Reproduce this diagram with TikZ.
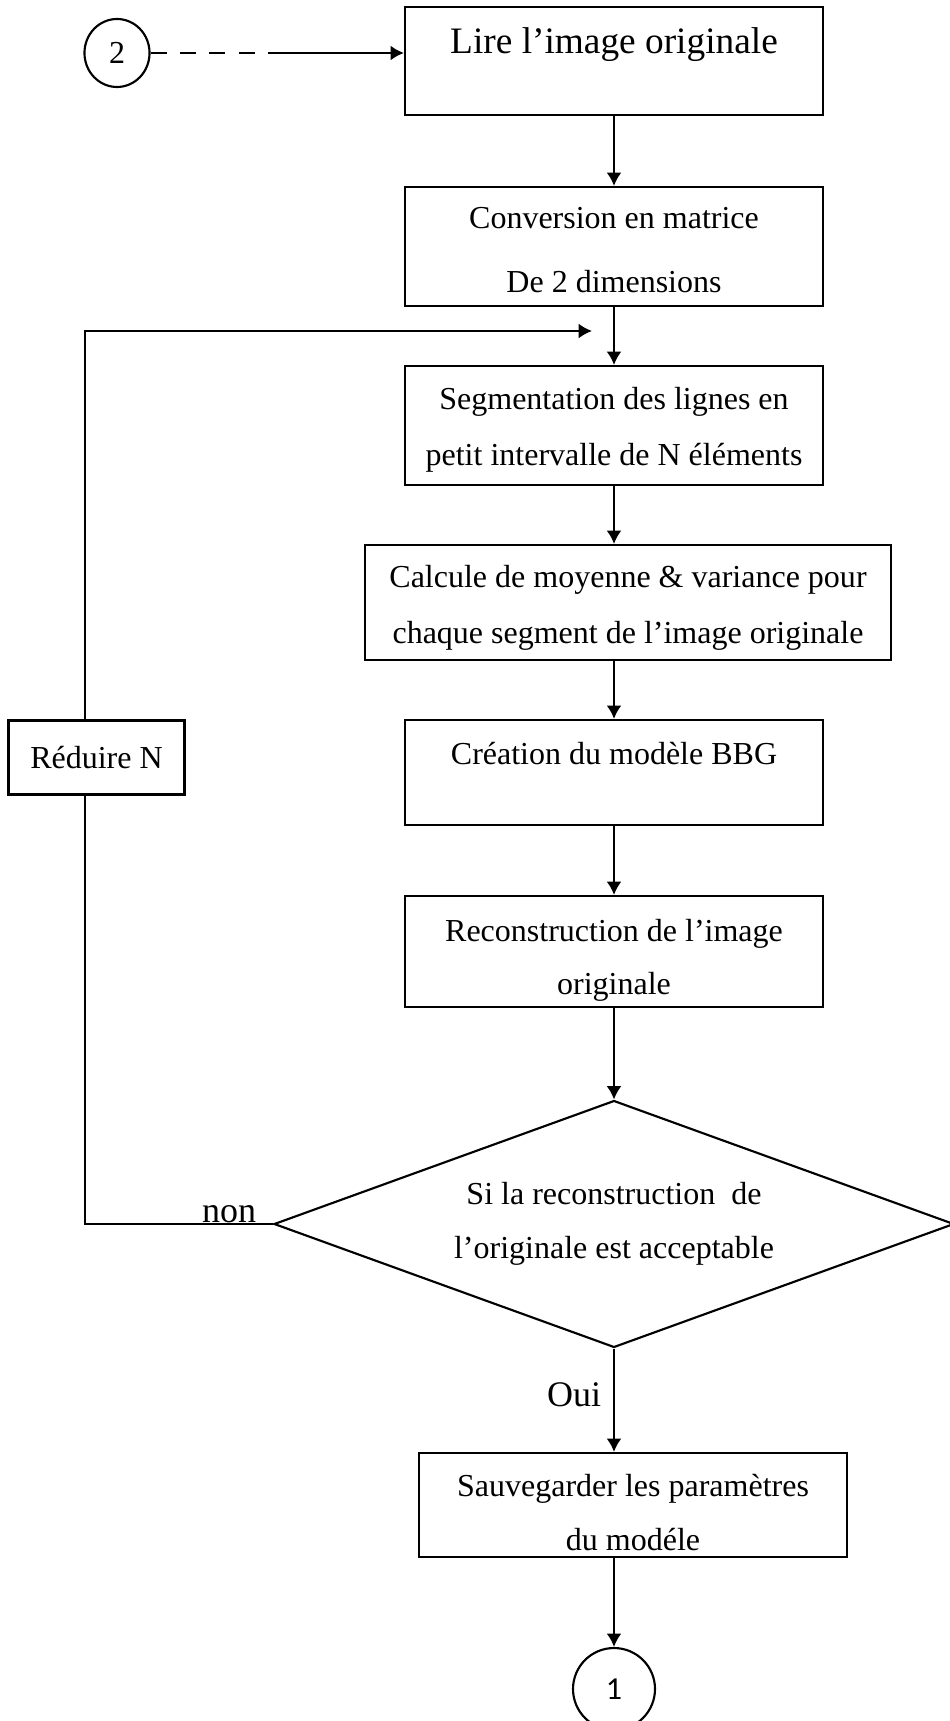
\documentclass[tikz,border=0pt]{standalone}
\usepackage{fontspec}
\setmainfont{Liberation Serif}
\newfontfamily\calfont{Carlito}
\usepackage{tikz}
\usepgflibrary{arrows}
\usetikzlibrary{shapes}
\usetikzlibrary{arrows.meta}
\usetikzlibrary{positioning}

\begin{document}
\begin{tikzpicture}[x=0.375pt,y=-0.375pt]
				\tikzset{box/.style = {shape=rectangle,draw,thick,minimum 
						width=156.75pt, inner sep = 0pt, align=center,
						font=\fontsize{12}{21}\selectfont}}
				\tikzset{conn/.style = {shape=ellipse,draw,thick,inner sep = 0pt,
						font=\fontsize{12}{14}\selectfont}}
				\tikzset{edge/.style = {->,> = {Latex[length=5pt,width=5.6pt]}, thick}}
				\tikzset{lbl/.style = {font=\fontsize{13.5}{16}\selectfont, inner sep = 0pt}}
				\useasboundingbox (0,0) rectangle (949,1721);
				
				% vertices
				\node[conn, minimum width=24.4pt, minimum height=25.5pt] (c2) at (117,53) {2};
				\node[box, minimum height=40.5pt, font=\fontsize{14}{21}\selectfont] (b1) at (614,61) {\rule{0pt}{15.5pt}Lire l’image originale\\ \mbox{}};
				\node[box, minimum height=44.6pt, font=\fontsize{12}{24}\selectfont] (b2) at (614,246.5) {\rule{0pt}{10.8pt}Conversion en matrice\\ De 2 dimensions};
				\node[box, minimum height=44.6pt] (b3) at (614,425.5) {\rule{0pt}{11.6pt}Segmentation des lignes en\\ petit intervalle de N éléments};
				\node[box, minimum width=197.25pt, minimum height=43.1pt] (b4) at (628,602.5) {\rule{0pt}{12.1pt}Calcule de moyenne \& variance pour\\ chaque segment de l’image originale};
				\node[box, minimum height=39.4pt, font=\fontsize{12}{18}\selectfont] (b5) at (614,772.5) {\rule{0pt}{12.3pt}Création du modèle BBG\\ \mbox{}};
				\node[box, minimum height=41.6pt, font=\fontsize{12}{20}\selectfont] (b6) at (614,951.5) {\rule{0pt}{14.9pt}Reconstruction de l’image\\ originale};
				\node[box, shape=diamond, aspect=2.75, minimum width=255pt, minimum height=92.6pt, font=\fontsize{12}{20}\selectfont] (d) at (614,1224) {Si la reconstruction\ \ de\\ l’originale est acceptable};
				\node[box, minimum width=160.5pt, minimum height=39pt, font=\fontsize{12}{20}\selectfont] (b7) at (633,1505) {\rule{0pt}{14.1pt}Sauvegarder les paramètres\\ du modéle};
				\node[box, minimum width=66pt, minimum height=27.75pt] (r) at (96.5,757.5) {Réduire N};
				\node[conn, minimum width=30.75pt, minimum height=30.75pt, font=\calfont\fontsize{12}{14}\selectfont] (c1) at (614,1689) {1};
				
				\node[lbl] (non) at (229,1214) {non};
				\node[lbl] (oui) at (574,1395) {Oui};
				
				\coordinate (m2) at (270,53);
				\coordinate (k2) at (85,331);
				\coordinate (k3) at (592,331);
				
				%edges
				\draw[thick, dash pattern=on 6pt off 5pt] (c2) -- (m2);
				\draw[edge] (m2) -- (m2 -| b1.west);
				\draw[edge] (b1) -- (b2);
				\draw[edge] (b2) -- (b3);
				\draw[edge] (b3) -- (b3 |- b4.north);
				\draw[edge] (b4.south -| b5) -- (b5);
				\draw[edge] (b5) -- (b6);
				\draw[edge] (b6) -- (d);
				\draw[edge] (d) -- (b7.north -| d);
				\draw[edge] (b7.south -| d) -- (c1);
				
				\draw[thick] (d.west) -| (k2 |- r.south);
				\draw[edge] (k2 |- r.north) -- (k2) -- (k3);
				
\end{tikzpicture}
\end{document}
